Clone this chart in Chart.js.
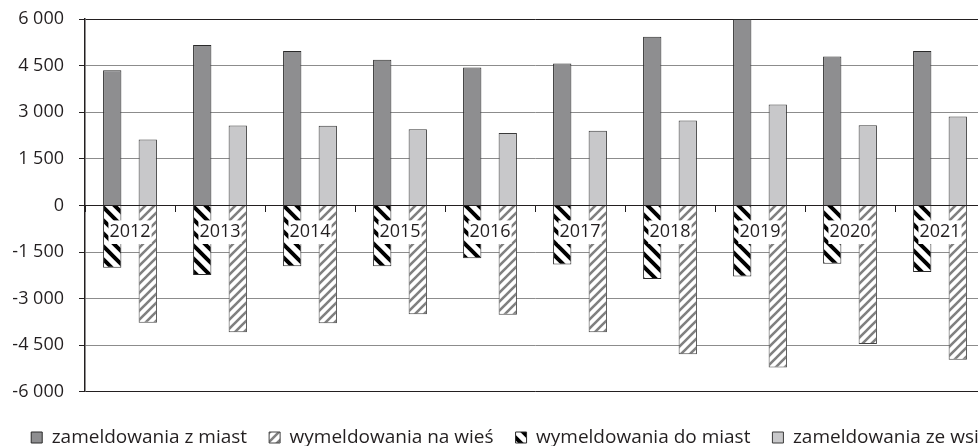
<!DOCTYPE html>
<html><head><meta charset="utf-8">
<script src="https://cdn.jsdelivr.net/npm/chart.js@4/dist/chart.umd.min.js"></script>
<style>html,body{margin:0;padding:0;overflow:hidden;background:#fff}
#wrap{position:absolute;left:0;top:0;width:1010px;height:457px}</style>
</head><body><div id="wrap"><canvas id="c"></canvas></div>
<script>
const categories = ['2012','2013','2014','2015','2016','2017','2018','2019','2020','2021'];
const zameldowaniaZMiast = [4350, 5160, 4970, 4690, 4440, 4570, 5430, 6000, 4790, 4970];
const wymeldowaniaNaWies = [-3780, -4080, -3790, -3500, -3520, -4080, -4790, -5220, -4460, -4970];
const wymeldowaniaDoMiast = [-2010, -2240, -1960, -1960, -1700, -1900, -2370, -2290, -1880, -2140];
const zameldowaniaZeWsi = [2120, 2570, 2560, 2450, 2330, 2400, 2730, 3250, 2580, 2860];
const yTicks = [-6000, -4500, -3000, -1500, 0, 1500, 3000, 4500, 6000];

const TXT = '#231f20';
const FONT = "'Open Sans', sans-serif";

function hatch(color, size, lw, dir) {
  const c = document.createElement('canvas');
  c.width = c.height = size;
  const g = c.getContext('2d');
  g.fillStyle = '#ffffff';
  g.fillRect(0, 0, size, size);
  g.strokeStyle = color;
  g.lineWidth = lw;
  g.beginPath();
  for (let k = -1; k <= 1; k++) {
    if (dir === 'back') { g.moveTo(k * size - 2, -2); g.lineTo(k * size + size + 2, size + 2); }
    else { g.moveTo(k * size - 2, size + 2); g.lineTo(k * size + size + 2, -2); }
  }
  g.stroke();
  return g.createPattern(c, 'repeat');
}
const patDoMiast = hatch('#000000', 13, 4, 'back');
const patNaWies = hatch('#808080', 9, 2.6, 'fwd');

function fmt(v) {
  const s = String(Math.abs(v)).replace(/\B(?=(\d{3})+(?!\d))/g, ' ');
  return (v < 0 ? '-' : '') + s;
}

new Chart(document.getElementById('c'), {
  type: 'bar',
  data: {
    labels: categories,
    datasets: [
      { label: 'zameldowania z miast', data: zameldowaniaZMiast, stack: 'a', backgroundColor: '#8e8e90', borderColor: '#2a2a2a', borderWidth: 1 },
      { label: 'wymeldowania na wieś', data: wymeldowaniaNaWies, stack: 'b', backgroundColor: patNaWies, borderColor: '#444444', borderWidth: 1 },
      { label: 'wymeldowania do miast', data: wymeldowaniaDoMiast, stack: 'a', backgroundColor: patDoMiast, borderColor: '#2a2a2a', borderWidth: 1 },
      { label: 'zameldowania ze wsi', data: zameldowaniaZeWsi, stack: 'b', backgroundColor: '#c8c8ca', borderColor: '#3a3a3a', borderWidth: 1 }
    ]
  },
  options: {
    responsive: true,
    maintainAspectRatio: false,
    animation: false,
    categoryPercentage: 0.79,
    barPercentage: 0.515,
    layout: { padding: { left: 0, right: 0, top: 19, bottom: 0 } },
    scales: {
      x: {
        stacked: true,
        position: { y: 0 },
        offset: true,
        grid: { offset: true, drawOnChartArea: false, drawTicks: true, tickLength: 6, color: TXT, tickColor: TXT, z: 1 },
        border: { display: true, color: TXT, width: 1, z: 1 },
        ticks: {
          z: 1,
          color: TXT, font: { family: FONT, size: 18 }, padding: 10,
          maxRotation: 0, autoSkip: false,
          showLabelBackdrop: true, backdropColor: '#ffffff', backdropPadding: 1
        }
      },
      y: {
        stacked: true,
        min: -6000, max: 6000,
        afterBuildTicks: s => { s.ticks = yTicks.map(v => ({ value: v })); },
        afterFit: s => { s.width = 85; s.paddingTop = 0; s.paddingBottom = 0; },
        grid: {
          color: c => (c.tick && (c.tick.value === 6000 || c.tick.value === -6000 || c.tick.value === 0)) ? TXT : '#8c8c8c',
          tickColor: TXT, tickLength: 6, lineWidth: 1
        },
        border: { display: true, color: TXT, width: 1.5 },
        ticks: { color: TXT, font: { family: FONT, size: 18 }, padding: 15, callback: v => fmt(v) }
      },
      y2: {
        position: 'right',
        display: true,
        grid: { display: false },
        border: { display: false },
        ticks: { display: false },
        afterFit: s => { s.width = 25; s.paddingTop = 0; s.paddingBottom = 0; }
      }
    },
    plugins: {
      tooltip: { enabled: false },
      legend: {
        position: 'bottom',
        align: 'center',
        title: { display: true, text: ' ', font: { size: 1 }, padding: { top: 0, bottom: 13 } },
        labels: {
          color: TXT, font: { family: FONT, size: 19 },
          boxWidth: 11, boxHeight: 11, padding: 22
        }
      }
    }
  }
});
</script>
</body></html>
